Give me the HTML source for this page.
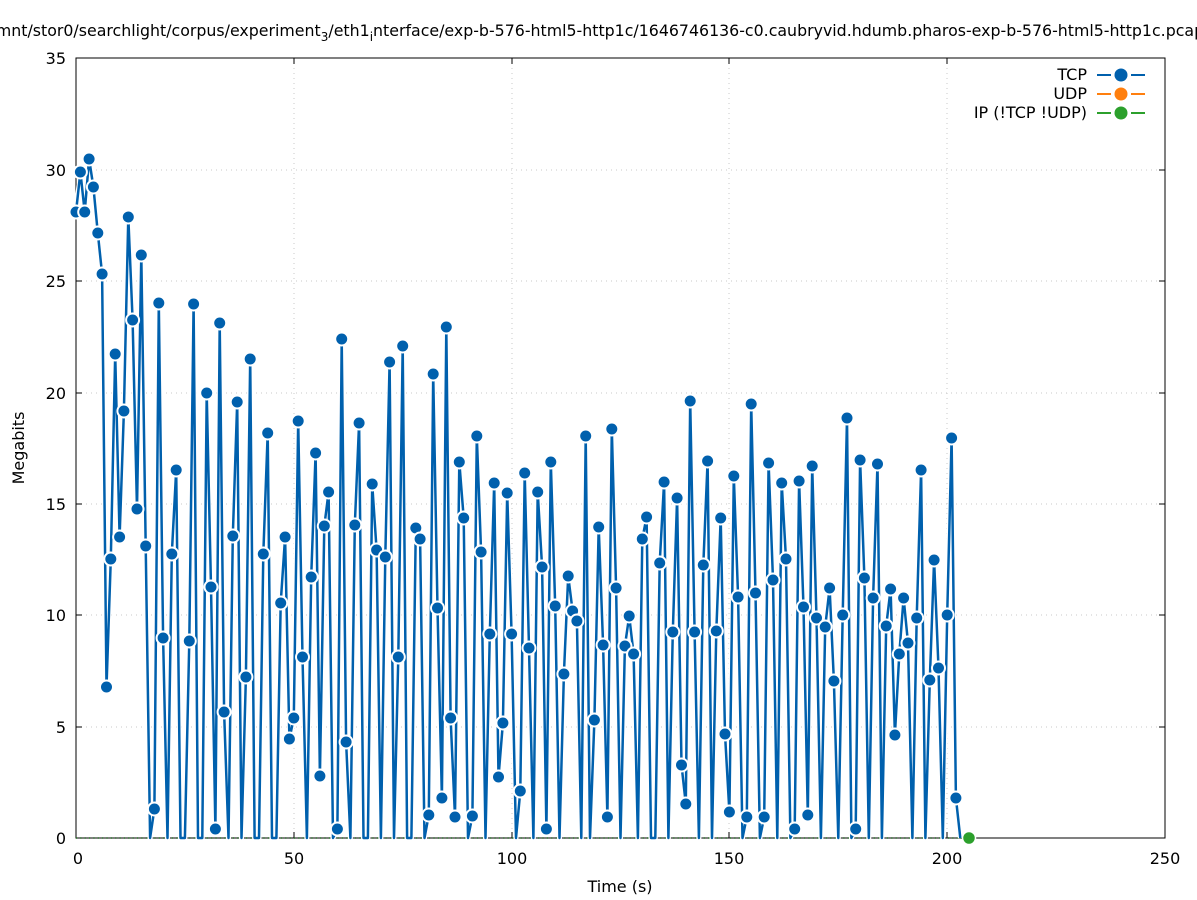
<!DOCTYPE html>
<html><head><meta charset="utf-8"><style>
body{margin:0;background:#fff;width:1197px;height:900px;overflow:hidden}
svg{display:block;font-family:"DejaVu Sans","Liberation Sans",sans-serif}
</style></head><body>
<svg id="s" width="1197" height="900" xmlns="http://www.w3.org/2000/svg">
<rect width="1197" height="900" fill="#fff"/>
<g id="grid" stroke="#c8c8c8" stroke-width="1" stroke-dasharray="1,4">
<line x1="76" y1="727" x2="1165" y2="727"/><line x1="76" y1="615" x2="1165" y2="615"/>
<line x1="76" y1="504" x2="1165" y2="504"/><line x1="76" y1="393" x2="1165" y2="393"/>
<line x1="76" y1="281" x2="1165" y2="281"/><line x1="76" y1="170" x2="1165" y2="170"/>
<line x1="294" y1="58" x2="294" y2="838"/><line x1="512" y1="58" x2="512" y2="838"/>
<line x1="729" y1="58" x2="729" y2="838"/><line x1="947" y1="58" x2="947" y2="838"/>
</g>
<rect x="76" y="58" width="1089" height="780" fill="none" stroke="#000" stroke-width="1"/>
<g stroke="#000" stroke-width="1">
<line x1="76" y1="727" x2="82" y2="727"/><line x1="1165" y1="727" x2="1159" y2="727"/>
<line x1="76" y1="615" x2="82" y2="615"/><line x1="1165" y1="615" x2="1159" y2="615"/>
<line x1="76" y1="504" x2="82" y2="504"/><line x1="1165" y1="504" x2="1159" y2="504"/>
<line x1="76" y1="393" x2="82" y2="393"/><line x1="1165" y1="393" x2="1159" y2="393"/>
<line x1="76" y1="281" x2="82" y2="281"/><line x1="1165" y1="281" x2="1159" y2="281"/>
<line x1="76" y1="170" x2="82" y2="170"/><line x1="1165" y1="170" x2="1159" y2="170"/>
<line x1="294" y1="838" x2="294" y2="832"/><line x1="294" y1="58" x2="294" y2="64"/>
<line x1="512" y1="838" x2="512" y2="832"/><line x1="512" y1="58" x2="512" y2="64"/>
<line x1="729" y1="838" x2="729" y2="832"/><line x1="729" y1="58" x2="729" y2="64"/>
<line x1="947" y1="838" x2="947" y2="832"/><line x1="947" y1="58" x2="947" y2="64"/>
</g>
<g font-size="16" fill="#000" text-anchor="end">
<text x="66" y="844">0</text><text x="66" y="733">5</text><text x="66" y="621">10</text>
<text x="66" y="510">15</text><text x="66" y="399">20</text><text x="66" y="287">25</text>
<text x="66" y="176">30</text><text x="66" y="64">35</text>
</g>
<g font-size="16" fill="#000" text-anchor="middle">
<text x="78" y="864">0</text><text x="294" y="864">50</text><text x="512" y="864">100</text>
<text x="729" y="864">150</text><text x="947" y="864">200</text><text x="1165" y="864">250</text>
<text x="620" y="892">Time (s)</text>
<text x="600" y="36" font-size="15.8">mnt/stor0/searchlight/corpus/experiment<tspan font-size="12" dy="5">3</tspan><tspan dy="-5">/eth1</tspan><tspan font-size="12" dy="5">i</tspan><tspan dy="-5">nterface/exp-b-576-html5-http1c/1646746136-c0.caubryvid.hdumb.pharos-exp-b-576-html5-http1c.pcap</tspan></text>
<text transform="translate(24,448) rotate(-90)">Megabits</text>
</g>
<g id="data"></g>
<g font-size="16" fill="#000" text-anchor="end">
<text x="1087" y="80">TCP</text><text x="1087" y="99">UDP</text><text x="1087" y="118">IP (!TCP  !UDP)</text>
</g>
<g stroke-width="2">
<line x1="1097" y1="75" x2="1111" y2="75" stroke="#0060ad"/><line x1="1131" y1="75" x2="1145" y2="75" stroke="#0060ad"/><circle cx="1121" cy="75" r="6.5" fill="#0060ad"/>
<line x1="1097" y1="94" x2="1111" y2="94" stroke="#ff7f0e"/><line x1="1131" y1="94" x2="1145" y2="94" stroke="#ff7f0e"/><circle cx="1121" cy="94" r="6.5" fill="#ff7f0e"/>
<line x1="1097" y1="113" x2="1111" y2="113" stroke="#2ca02c"/><line x1="1131" y1="113" x2="1145" y2="113" stroke="#2ca02c"/><circle cx="1121" cy="113" r="6.5" fill="#2ca02c"/>
</g>
</svg>
<script>
var m=[[74,212],[79,172],[84,212],[88,159],[92,187],[97,233],[101,274],[106,687],[110,559],[114,354],[119,537],[123,411],[127,217],[132,320],[136,509],[140,255],[145,546],[153,809],[158,303],[162,638],[171,554],[175,470],[188,641],[193,304],[206,393],[210,587],[215,829],[219,323],[223,712],[232,536],[236,402],[245,677],[250,359],[263,554],[267,433],[280,603],[284,537],[289,739],[293,718],[297,421],[302,657],[311,577],[315,453],[319,776],[324,526],[328,492],[337,829],[341,339],[345,742],[354,525],[358,423],[372,484],[376,550],[385,557],[389,362],[398,657],[402,346],[415,528],[419,539],[428,815],[433,374],[437,608],[441,798],[446,327],[450,718],[454,817],[459,462],[463,518],[472,816],[476,436],[481,552],[489,634],[494,483],[498,777],[502,723],[507,493],[511,634],[520,791],[524,473],[529,648],[537,492],[542,567],[546,829],[550,462],[555,606],[564,674],[568,576],[572,611],[577,621],[585,436],[594,720],[598,527],[603,645],[607,817],[612,429],[616,588],[625,646],[629,616],[633,654],[642,539],[646,517],[659,563],[664,482],[673,632],[677,498],[681,765],[686,804],[690,401],[694,632],[703,565],[707,461],[716,631],[720,518],[725,734],[729,812],[734,476],[738,597],[747,817],[751,404],[755,593],[764,817],[768,463],[773,580],[782,483],[786,559],[795,829],[799,481],[803,607],[808,815],[812,466],[816,618],[825,627],[829,588],[834,681],[843,615],[847,418],[856,829],[860,460],[864,578],[873,598],[878,464],[886,626],[891,589],[895,735],[899,654],[904,598],[908,643],[917,618],[921,470],[930,680],[934,560],[938,668],[947,615],[951,438],[956,798]];
var pts=[],st=4.356,x0=76;
for(var i=0;i<=203;i++){var x=x0+i*st,f=null;for(var j=0;j<m.length;j++){if(Math.abs(m[j][0]-x)<2.2){f=m[j];break;}}pts.push(f?[x,f[1],1]:[x,838,0]);}
var s='',d='';pts.forEach(function(p,i){d+=(i?'L':'M')+p[0].toFixed(1)+','+p[1];});
s+='<line x1="76" y1="838" x2="969" y2="838" stroke="#2ca02c" stroke-width="2" stroke-dasharray="1,3.36" opacity="0.6"/>';
s+='<path d="'+d+'" fill="none" stroke="#fff" stroke-width="5" stroke-linejoin="round"/>';
s+='<path d="'+d+'" fill="none" stroke="#0060ad" stroke-width="2.5" stroke-linejoin="round"/>';
pts.forEach(function(p){if(p[2])s+='<circle cx="'+p[0].toFixed(1)+'" cy="'+p[1]+'" r="6.5" fill="#0060ad" stroke="#fff" stroke-width="2"/>';});
s+='<circle cx="969" cy="838" r="6.5" fill="#2ca02c" stroke="#fff" stroke-width="1.5"/>';
document.getElementById('data').innerHTML=s;
</script>
</body></html>
